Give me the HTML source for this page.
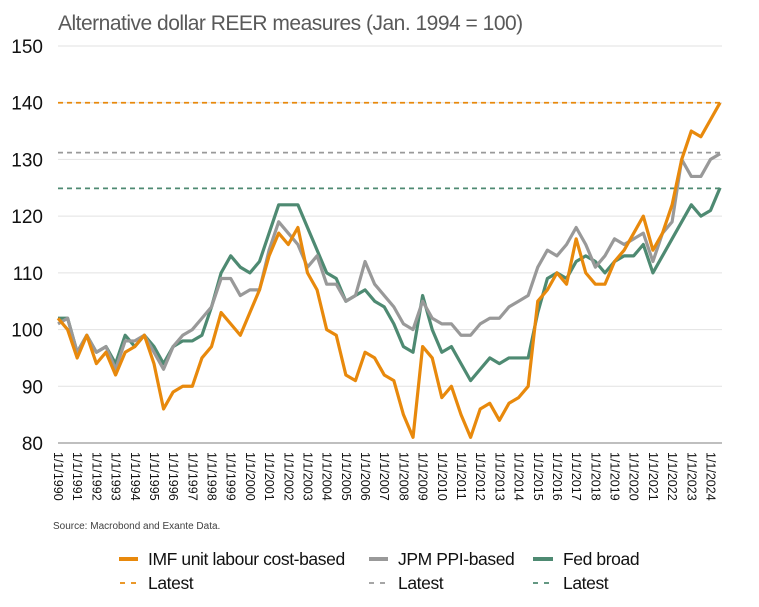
<!DOCTYPE html>
<html><head><meta charset="utf-8"><style>
body{margin:0;background:#fff;font-family:"Liberation Sans",sans-serif;}
svg{display:block}
</style></head><body>
<svg width="759" height="607" id="c">
<text x="58" y="30" font-size="21" fill="#595959" style="letter-spacing:-0.5px">Alternative dollar REER measures (Jan. 1994 = 100)</text>
<text x="53" y="529" font-size="10" fill="#404040">Source: Macrobond and Exante Data.</text>
<g id="grid"></g><g id="lines"></g><g id="xt"></g>
<g font-size="17.5" fill="#111" style="letter-spacing:-0.4px">
<line x1="119" y1="559" x2="138" y2="559" stroke="#E8890C" stroke-width="4"/>
<text x="148" y="565">IMF unit labour cost-based</text>
<line x1="369" y1="559" x2="388" y2="559" stroke="#999" stroke-width="4"/>
<text x="398" y="565">JPM PPI-based</text>
<line x1="533" y1="559" x2="553" y2="559" stroke="#4E8A72" stroke-width="4"/>
<text x="563" y="565">Fed broad</text>
<line x1="120" y1="583" x2="136" y2="583" stroke="#E8890C" stroke-width="1.8" stroke-dasharray="5,6"/>
<text x="148" y="589">Latest</text>
<line x1="369" y1="583" x2="385" y2="583" stroke="#999" stroke-width="1.8" stroke-dasharray="5,6"/>
<text x="398" y="589">Latest</text>
<line x1="533" y1="583" x2="549" y2="583" stroke="#4E8A72" stroke-width="1.8" stroke-dasharray="5,6"/>
<text x="563" y="589">Latest</text>
</g>
</svg>
<script>
const yTicks=[80,90,100,110,120,130,140,150];
const years=[];for(let y=1990;y<=2024;y++)years.push(y);
const dates=[];for(let i=0;i<70;i++)dates.push(1990+i*0.5);
const imf=[102,100,95,99,94,96,92,96,97,99,94,86,89,90,90,95,97,103,101,99,103,107,113,117,115,118,110,107,100,99,92,91,96,95,92,91,85,81,97,95,88,90,85,81,86,87,84,87,88,90,105,107,110,108,116,110,108,108,112,114,117,120,114,117,122,130,135,134,137,140];
const jpm=[101,102,96,99,96,97,93,98,98,99,96,93,97,99,100,102,104,109,109,106,107,107,114,119,117,115,111,113,108,108,105,106,112,108,106,104,101,100,105,102,101,101,99,99,101,102,102,104,105,106,111,114,113,115,118,115,111,113,116,115,116,117,112,117,119,130,127,127,130,131];
const fed=[102,102,96,99,96,97,94,99,97,99,97,94,97,98,98,99,104,110,113,111,110,112,117,122,122,122,118,114,110,109,105,106,107,105,104,101,97,96,106,100,96,97,94,91,93,95,94,95,95,95,103,109,110,109,112,113,112,110,112,113,113,115,110,113,116,119,122,120,121,125];
const latest=[140,131.2,124.9];
const colors=["#E8890C","#999999","#4E8A72"];
const names=["imf","jpm","fed"];
const NS="http://www.w3.org/2000/svg";
const X0=58,X1=722,Y0=443,Y1=46;
const xs=d=>X0+(d-1990)/(2024.6-1990)*(X1-X0);
const ys=v=>Y0+(v-80)/(150-80)*(Y1-Y0);
function mk(t,a,p){const e=document.createElementNS(NS,t);for(const k in a)e.setAttribute(k,a[k]);p.appendChild(e);return e;}
const g=document.getElementById('grid');
yTicks.forEach(v=>{
 const l=mk('line',{x1:X0,x2:X1,y1:ys(v),y2:ys(v),stroke:v===80?'#aaa':'#e2e2e2','stroke-width':v===80?1.5:1},g);
 
 
 const t=mk('text',{x:43,y:ys(v)+7,'font-size':19,'text-anchor':'end',fill:'#111'},g);
 t.textContent=v;
 
 
});
const L=document.getElementById('lines');
[imf,jpm,fed].forEach((s,i)=>{
 const dl=mk('line',{x1:X0,x2:X1,y1:ys(latest[i]),y2:ys(latest[i]),stroke:colors[i],'stroke-width':1.8,'stroke-dasharray':'5,4'},L);
 
 
});
[fed,jpm,imf].forEach((s,j)=>{
 const i=2-j;
 const p=mk('polyline',{points:s.map((v,k)=>xs(dates[k])+','+ys(v)).join(' '),fill:'none',stroke:colors[i],'stroke-width':3.2,'stroke-linejoin':'round'},L);
 
 
});
const xt=document.getElementById('xt');
years.forEach(y=>{
 const x=xs(y)-4;
 const t=mk('text',{x:0,y:0,'font-size':12.5,fill:'#111',transform:`translate(${x},452) rotate(90)`},xt);
 t.textContent='1/1/'+y;
 
 
});
</script>
</body></html>
